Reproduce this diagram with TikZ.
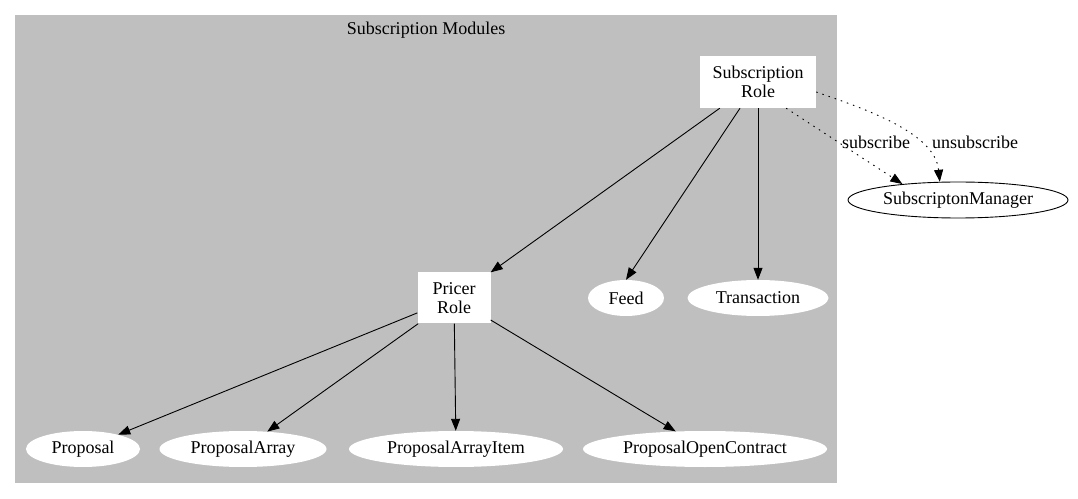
\documentclass[tikz,border=0pt]{standalone}
\usepackage{fontspec}
\setmainfont{Liberation Serif}
\definecolor{c_gray}{HTML}{BFBFBF}
\usepackage{tikz}
\usetikzlibrary{shapes.geometric,arrows.meta}

\begin{document}
\begin{tikzpicture}[
    x=1bp, y=-1bp,
    font=\fontsize{18bp}{19bp}\selectfont,
    >={Triangle[length=12bp,width=9bp]},
    rolebox/.style={rectangle,fill=white,align=center,inner sep=0pt},
    module/.style={ellipse,fill=white,inner sep=0pt,minimum height=36bp},
    link/.style={->,black,line width=0.9bp},
    call/.style={->,black,line width=0.9bp,dash pattern=on 1.5bp off 5bp}]

    \useasboundingbox (0,0) rectangle (1078,499);
    \fill[c_gray] (15,15) rectangle (837,483);
    \node (title) at (426,30) {Subscription Modules};

    \node[rolebox,minimum width=116bp,minimum height=52bp] (subrole) at (758,82) {Subscription\\Role};
    \node[rolebox,minimum width=73bp,minimum height=51bp] (pricer) at (454,298) {Pricer\\Role};

    \node[module,draw,line width=0.9bp,minimum width=220bp] (manager) at (958,200) {SubscriptonManager};
    \node[module,minimum width=76bp] (feed) at (626,298) {Feed};
    \node[module,minimum width=141bp] (transaction) at (758,298) {Transaction};

    \node[module,minimum width=114bp] (proposal) at (83,449) {Proposal};
    \node[module,minimum width=167bp] (parray) at (243,449) {ProposalArray};
    \node[module,minimum width=214bp] (pitem) at (456,449) {ProposalArrayItem};
    \node[module,minimum width=244bp] (popen) at (705,449) {ProposalOpenContract};

    \draw[link] (subrole.south west) ++(20,0) -- (pricer.north east);
    \draw[link] (subrole.south) ++(-18,0) -- (feed.north);
    \draw[link] (subrole) -- (transaction);
    \draw[call] (subrole.south east) ++(-30,0) -- (manager.164);
    \node (sublabel) at (876,142) {subscribe};
    \draw[call] (subrole.east) ++(0,10) .. controls (875,112) and (935,135) .. (manager.135);
    \node (unsublabel) at (975,142) {unsubscribe};

    \draw[link] (pricer) -- (proposal);
    \draw[link] (pricer) -- (parray);
    \draw[link] (pricer) -- (pitem);
    \draw[link] (pricer) -- (popen);
\end{tikzpicture}
\end{document}
